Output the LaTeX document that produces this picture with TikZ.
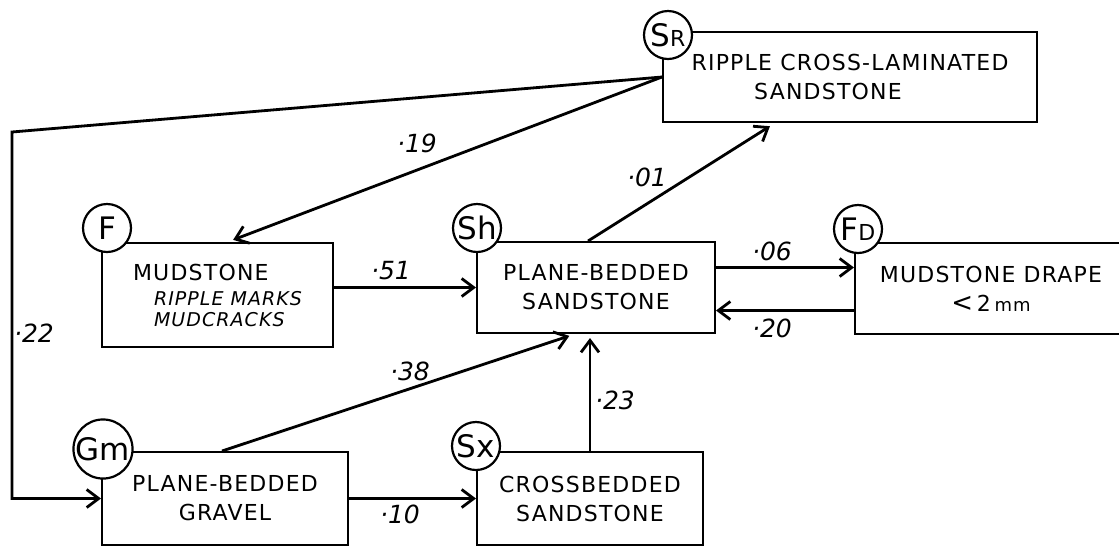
\documentclass[tikz,border=0pt]{standalone}
\usepackage{fontspec}
\setmainfont{DejaVu Sans}
\newfontfamily\letterfont{DejaVu Sans}[LetterSpace=5.5]
\usetikzlibrary{arrows.meta,calc}

\newcommand{\sm}[1]{{\fontsize{11}{11}\selectfont #1}}

\tikzset{
    facies/.style={draw, line width=1pt, inner sep=0pt, align=center,
        font=\letterfont\fontsize{11}{14.5}\selectfont},
    code/.style={circle, draw, fill=white, line width=1.1pt, minimum size=24pt,
        inner sep=0pt, font=\fontsize{15.5}{15.5}\selectfont},
    flow/.style={line width=1.4pt, -{Straight Barb[length=6pt,width=9pt]}},
    prob/.style={inner sep=0pt, font=\itshape\fontsize{12.5}{14}\selectfont},
}

\begin{document}
\begin{tikzpicture}[x=0.5pt, y=-0.5pt]
            \useasboundingbox (0,0) rectangle (1119,548);
            \node[facies, minimum width=187pt, minimum height=45pt] (sr) at (850,77)
                {RIPPLE CROSS-LAMINATED\\SANDSTONE\hspace*{22pt}};
            \node[facies, minimum width=115.5pt, minimum height=52pt, align=left] (f) at (217.5,295)
                {MUDSTONE\\[-2pt]
                 \hspace*{10.5pt}{\itshape\fontsize{9.5}{10}\selectfont RIPPLE MARKS}\\[-4pt]
                 \hspace*{10.5pt}{\itshape\fontsize{9.5}{10}\selectfont MUDCRACKS}};
            \node[facies, minimum width=119pt, minimum height=45.5pt] (sh) at (596,287.5)
                {PLANE-BEDDED\\SANDSTONE};
            \node[facies, minimum width=136pt, minimum height=45.5pt] (fd) at (991,288.5)
                {MUDSTONE DRAPE\\{\fontsize{13}{13}\selectfont <}\,2\,{\fontsize{9}{9}\selectfont mm}};
            \node[facies, minimum width=123pt, minimum height=46.5pt] (gm) at (225,498.5)
                {PLANE-BEDDED\\GRAVEL};
            \node[facies, minimum width=113pt, minimum height=46.5pt] (sx) at (590,498.5)
                {CROSSBEDDED\\SANDSTONE};

            \node[code] (srC) at ($(sr.north west)+(6,4)$) {S\sm{R}};
            \node[code] (fC) at ($(f.north west)+(6,-14)$) {F};
            \node[code] (shC) at ($(sh.north west)+(1,-13)$) {Sh};
            \node[code] (fdC) at ($(fd.north west)+(4,-13)$) {F\sm{D}};
            \node[code] (gmC) at ($(gm.north west)+(2,-2)$) {Gm};
            \node[code] (sxC) at ($(sx.north west)+(0,-5)$) {Sx};

            \coordinate (bend) at (12,132);
            \coordinate (o6) at ([yshift=10pt]sh.east);
            \coordinate (o20) at ([yshift=-11pt]fd.west);
            \draw[flow] (sr.west) -- (bend) |- (gm.west);
            \draw[flow, shorten >=3pt] (sr.west) -- ($(f.north)+(10,0)$);
            \draw[flow, shorten >=3pt] ($(sh.north)+(-8,0)$) -- ($(sr.south)+(-75,0)$);
            \draw[flow] (f.east |- sh.west) -- (sh.west);
            \draw[flow] (o6) -- (o6 -| fd.west);
            \draw[flow] (o20) -- (o20 -| sh.east);
            \draw[flow, shorten >=3pt] ($(gm.north)+(-3,0)$) -- ($(sh.south)+(-21,0)$);
            \draw[flow, shorten >=2pt] (sx.north) -- (sx.north |- sh.south);
            \draw[flow] (gm.east) -- (sx.west);

            \foreach \v/\x/\y in {19/417/143, 01/647/177, 51/391/271, 06/772/251, 20/772/328,
                                  22/34/333, 38/410/371, 23/615/400, 10/400/514}{
                    \node[prob] (p\v) at (\x,\y) {·\v};
                }
        \end{tikzpicture}
\end{document}
